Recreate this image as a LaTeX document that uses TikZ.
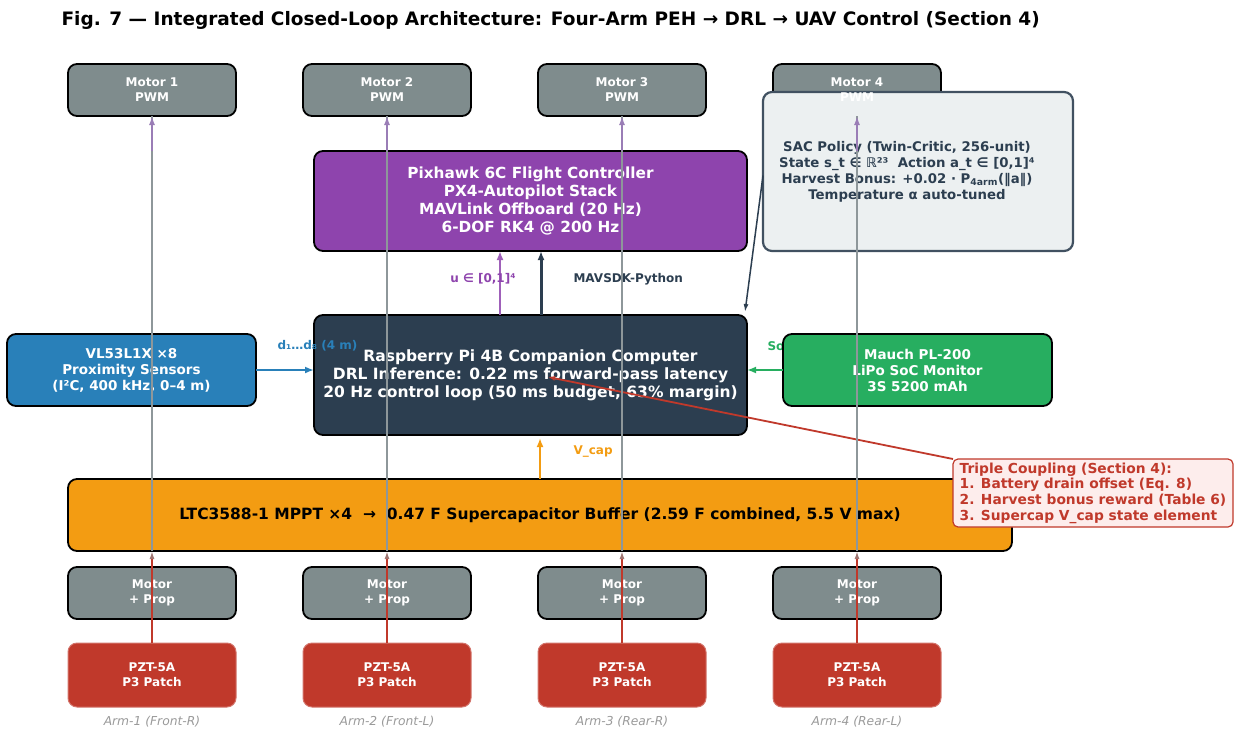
\documentclass[tikz,border=0pt]{standalone}
\usepackage{fontspec}
\setmainfont{DejaVu Sans}[BoldFont={DejaVu Sans Bold},ItalicFont={DejaVu Sans Oblique},BoldItalicFont={DejaVu Sans Bold Oblique}]
\usetikzlibrary{arrows.meta,positioning,calc}
\definecolor{motorgray}{HTML}{7F8C8D}
\definecolor{fcpurple}{HTML}{8E44AD}
\definecolor{pidark}{HTML}{2C3E50}
\definecolor{sensblue}{HTML}{2980B9}
\definecolor{battgreen}{HTML}{27AE60}
\definecolor{capamber}{HTML}{F39C12}
\definecolor{pztred}{HTML}{C0392B}
\definecolor{policybg}{HTML}{ECF0F1}
\definecolor{notebg}{HTML}{FDEDEC}
\definecolor{wiregray}{HTML}{8E979A}
\definecolor{cmdpurple}{HTML}{9A7DB6}
\definecolor{armgray}{HTML}{9A9A9A}

\begin{document}
\begin{tikzpicture}[
  x=1pt, y=-1pt,
  node distance=67pt,
  box/.style={rounded corners=9pt, align=center, inner sep=0pt, outer sep=0pt, draw=black, line width=1.8pt, text=white, font=\bfseries\fontsize{12}{15}\selectfont},
  motor/.style={box, fill=motorgray, minimum width=168pt, minimum height=52pt},
  patch/.style={box, fill=pztred, draw=pztred!70!white, line width=1pt, minimum width=168pt, minimum height=64pt},
  lbl/.style={font=\bfseries\fontsize{12}{14}\selectfont},
  arm/.style={font=\itshape\fontsize{12.3}{14}\selectfont, text=armgray},
  arr/.style={-{Latex[length=9pt,width=7pt]}, line width=2pt},
  wire/.style={draw=wiregray, line width=1.3pt},
  cmd/.style={draw=cmdpurple, line width=1.6pt, -{Latex[length=9pt,width=6pt]}},
  harv/.style={draw=pztred, line width=1.6pt, -{Latex[length=8pt,width=5pt,color=pztred!35!wiregray]}}
]
\useasboundingbox (0,0) rectangle (1246,744);

\node[anchor=west, font=\bfseries\fontsize{18.5}{22}\selectfont] (title) at (58,20) {Fig. 7 — Integrated Closed-Loop Architecture: Four-Arm PEH → DRL → UAV Control (Section 4)};

% motor commands
\node[motor] (pwm1) at (152,90) {Motor 1\\PWM};
\node[motor, right=of pwm1] (pwm2) {Motor 2\\PWM};
\node[motor, right=of pwm2] (pwm3) {Motor 3\\PWM};
\node[motor, right=of pwm3] (pwm4) {};

\node[box, fill=fcpurple, minimum width=433pt, minimum height=100pt, font=\bfseries\fontsize{15.3}{18}\selectfont] (pix) at (530.5,201) {Pixhawk 6C Flight Controller\\PX4-Autopilot Stack\\MAVLink Offboard (20 Hz)\\6-DOF RK4 @ 200 Hz};

\node[box, fill=policybg, draw=pidark!90, line width=2.2pt, minimum width=310pt, minimum height=159pt] (sac) at (918,171.5) {};
\node[align=center, text=pidark, font=\bfseries\fontsize{13.3}{16}\selectfont] (sactxt) at (907,171.5) {SAC Policy (Twin-Critic, 256-unit)\\State s\_t ∈ ℝ²³\ \ Action a\_t ∈ [0,1]⁴\\Harvest Bonus: +0.02 · P\textsubscript{4arm}(‖a‖)\\Temperature α auto-tuned};
\node[align=center, text=white, font=\bfseries\fontsize{12}{15}\selectfont] (pwm4txt) at (pwm4) {Motor 4\\PWM};

% companion computer and sensors
\node[box, fill=pidark, minimum width=433pt, minimum height=120pt, font=\bfseries\fontsize{15.5}{18}\selectfont] (pi) at (530.5,375) {Raspberry Pi 4B Companion Computer\\DRL Inference: 0.22 ms forward-pass latency\\20 Hz control loop (50 ms budget, 63\% margin)};

\node[box, fill=sensblue, minimum width=249pt, minimum height=72pt, font=\bfseries\fontsize{13.5}{16}\selectfont] (vl) at (131.5,370) {VL53L1X ×8\\Proximity Sensors\\(I²C, 400 kHz, 0–4 m)};

\node[lbl, text=battgreen, anchor=west] (soclbl) at (764,346) {SoC};
\node[box, fill=battgreen, minimum width=269pt, minimum height=72pt, font=\bfseries\fontsize{13.5}{16}\selectfont] (mauch) at (917.5,370) {Mauch PL-200\\LiPo SoC Monitor\\3S 5200 mAh};

% harvesting chain
\node[box, fill=capamber, text=black, minimum width=944pt, minimum height=72pt, font=\bfseries\fontsize{15.5}{18}\selectfont] (ltc) at (540,515) {LTC3588-1 MPPT ×4\ \ →\ \ 0.47 F Supercapacitor Buffer (2.59 F combined, 5.5 V max)};

\node[motor] (mp1) at (152,593) {Motor\\+ Prop};
\node[motor, right=of mp1] (mp2) {Motor\\+ Prop};
\node[motor, right=of mp2] (mp3) {Motor\\+ Prop};
\node[motor, right=of mp3] (mp4) {Motor\\+ Prop};

\node[patch] (pzt1) at (152,675) {PZT-5A\\P3 Patch};
\node[patch, right=of pzt1] (pzt2) {PZT-5A\\P3 Patch};
\node[patch, right=of pzt2] (pzt3) {PZT-5A\\P3 Patch};
\node[patch, right=of pzt3] (pzt4) {PZT-5A\\P3 Patch};

\node[arm, below=6pt of pzt1] (arm1) {Arm-1 (Front-R)};
\node[arm, below=6pt of pzt2] (arm2) {Arm-2 (Front-L)};
\node[arm, below=6pt of pzt3] (arm3) {Arm-3 (Rear-R)};
\node[arm, below=6pt of pzt4] (arm4) {Arm-4 (Rear-L)};

\node[box, fill=notebg, draw=pztred, line width=1.2pt, rounded corners=5pt, text=pztred, align=left, minimum width=280pt, minimum height=68pt, font=\bfseries\fontsize{13.8}{15.7}\selectfont] (note) at (1093,493) {Triple Coupling (Section 4):\\1. Battery drain offset (Eq. 8)\\2. Harvest bonus reward (Table 6)\\3. Supercap V\_cap state element};

% signal paths
\draw[arr, sensblue] (vl.east) -- (vl.east -| pi.west);
\node[lbl, text=sensblue, anchor=west] (dlbl) at (274,346) {d₁…d₈ (4 m)};
\draw[arr, battgreen] (mauch.west) -- (mauch.west -| pi.east);

\draw[arr, fcpurple!85!white, line width=2.5pt] ([xshift=-30.5pt]pi.north) -- ([xshift=-30.5pt]pix.south);
\node[lbl, text=fcpurple] (ulbl) at (483,279) {u ∈ [0,1]⁴};
\draw[arr, pidark, line width=3pt] ([xshift=10.5pt]pi.north) -- ([xshift=10.5pt]pix.south);
\node[lbl, text=pidark, anchor=west] (mavlbl) at (570,279) {MAVSDK-Python};

\draw[arr, capamber, line width=2.5pt, shorten >=3pt] (ltc.north) -- (ltc.north |- pi.south);
\node[lbl, text=capamber, anchor=west] (vlbl) at (570,452) {V\_cap};

\draw[-{Latex[length=8pt,width=5pt]}, pidark, line width=1.5pt] ([yshift=-4pt]sac.west) -- ([xshift=-2pt,yshift=3pt]pi.north east);

\coordinate (drl) at (548,377);
\draw[-{Latex[length=7pt,width=5pt]}, pztred, line width=1.8pt] (note.north west) -- (drl);

% per-arm wiring
\draw[harv] (pzt1.north) -- (pzt1 |- ltc.south);
\draw[harv] (pzt2.north) -- (pzt2 |- ltc.south);
\draw[harv] (pzt3.north) -- (pzt3 |- ltc.south);
\draw[harv] (pzt4.north) -- (pzt4 |- ltc.south);

\draw[wire] (ltc.south -| pwm1) -- (pwm1.south);
\draw[wire] (ltc.south -| pwm2) -- (pwm2.south);
\draw[wire] (ltc.south -| pwm3) -- (pwm3.south);
\draw[wire] (ltc.south -| pwm4) -- (pwm4.south);

\draw[cmd] (pwm1 |- pix.north) -- (pwm1.south);
\draw[cmd] (pwm2 |- pix.north) -- (pwm2.south);
\draw[cmd] (pwm3 |- pix.north) -- (pwm3.south);
\draw[cmd] (pwm4 |- pix.north) -- (pwm4.south);
\end{tikzpicture}
\end{document}
